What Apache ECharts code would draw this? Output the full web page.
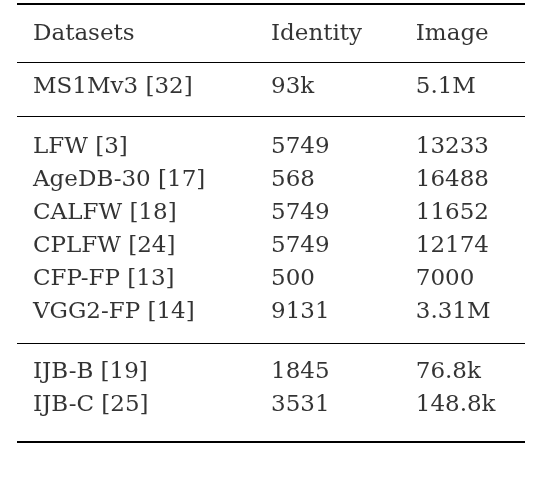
<!DOCTYPE html>
<html><head><meta charset="utf-8">
<script src="https://cdn.jsdelivr.net/npm/echarts@6/dist/echarts.min.js"></script>
<style>html,body{margin:0;background:#fff}#c{width:538px;height:504px}</style>
</head><body><div id="c"></div>
<script>
const headers = ['Datasets','Identity','Image'];
const datasets = ['MS1Mv3 [32]','LFW [3]','AgeDB-30 [17]','CALFW [18]','CPLFW [24]','CFP-FP [13]','VGG2-FP [14]','IJB-B [19]','IJB-C [25]'];
const identity = ['93k','5749','568','5749','5749','500','9131','1845','3531'];
const images = ['5.1M','13233','16488','11652','12174','7000','3.31M','76.8k','148.8k'];
const groups = [0,1,1,1,1,1,1,2,2];
const rules = [-0.91,0.85,2.48,9.33,12.3];
const ruleWidths = [2,1,1,1,2];

const colX = [0.0315,0.5,0.785];
const rowY = [0];
datasets.forEach((d,i)=>rowY.push(1.6 + i + groups[i]*0.8));
const rows = [headers].concat(datasets.map((d,i)=>[d,identity[i],images[i]]));
const data = [];
rows.forEach((r,ri)=>r.forEach((t,ci)=>data.push({value:[colX[ci],rowY[ri]],label:{formatter:t}})));

const chart = echarts.init(document.getElementById('c'));
chart.setOption({
  animation:false,
  grid:{left:17,width:508,top:1,height:443.75},
  xAxis:{type:'value',min:0,max:1,show:false},
  yAxis:{type:'value',min:-1,max:12.4,inverse:true,show:false},
  series:[{
    type:'scatter',symbolSize:0,data:data,
    label:{show:true,position:[0,0],align:'left',verticalAlign:'middle',
      fontFamily:'DejaVu Serif',fontSize:23,color:'#000'},
    markLine:{symbol:'none',silent:true,label:{show:false},
      data:rules.map((v,i)=>({yAxis:v,lineStyle:{color:'#000',width:ruleWidths[i],type:'solid'}}))}
  }]
});
</script></body></html>
